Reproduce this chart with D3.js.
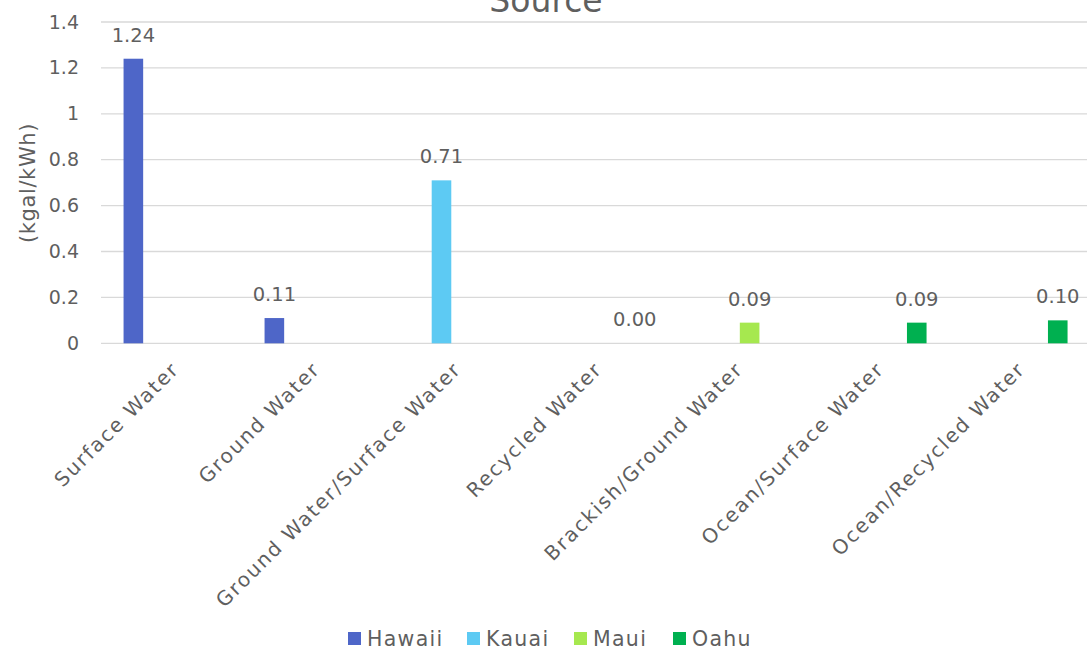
<!DOCTYPE html>
<html>
<head>
<meta charset="utf-8">
<script src="https://cdn.jsdelivr.net/npm/d3@7"></script>
<style>
  html, body { margin: 0; padding: 0; background: #fff; }
  svg { display: block; }
  text { font-family: "DejaVu Sans", sans-serif; fill: #5f5f5f; }
</style>
</head>
<body>
<svg id="chart" width="1087" height="652"></svg>
<script>
const categories = ["Surface Water", "Ground Water", "Ground Water/Surface Water", "Recycled Water", "Brackish/Ground Water", "Ocean/Surface Water", "Ocean/Recycled Water"];
const seriesNames = ["Hawaii", "Kauai", "Maui", "Oahu"];
const hawaii = [1.24, 0.11, null, null, null, null, null];
const kauai  = [null, null, 0.71, null, null, null, null];
const maui   = [null, null, null, null, 0.09, null, null];
const oahu   = [null, null, null, 0.00, null, 0.09, 0.10];
const yTicks = [0, 0.2, 0.4, 0.6, 0.8, 1, 1.2, 1.4];
const colors = ["#4E66C8", "#5DCAF3", "#A6E84F", "#00B050"];

const seriesValues = [hawaii, kauai, maui, oahu];

const svg = d3.select("#chart");
const plotLeft = 101, plotRight = 1088, plotTop = 22, plotBottom = 343.3;

const x0 = d3.scaleBand().domain(categories).range([plotLeft, plotRight]).paddingInner(0).paddingOuter(0);
const cw = x0.bandwidth();
const x1 = d3.scaleBand().domain(seriesNames).range([cw * 0.16, cw * 0.855]).paddingInner(0.25).paddingOuter(0);
const y = d3.scaleLinear().domain([0, 1.4]).range([plotBottom, plotTop]);

const FONT = '"DejaVu Sans", sans-serif';
const TXT = "#5f5f5f";

// gridlines
svg.append("g").selectAll("line").data(yTicks).join("line")
  .attr("x1", plotLeft).attr("x2", plotRight)
  .attr("y1", d => y(d)).attr("y2", d => y(d))
  .attr("stroke", "#D9D9D9").attr("stroke-width", 1.3);

// y axis labels
const yAxis = d3.axisLeft(y).tickValues(yTicks).tickSize(0).tickPadding(0).tickFormat(d => d3.format("")(d));
const gy = svg.append("g").attr("transform", `translate(79,0)`).call(yAxis);
gy.select(".domain").remove();
gy.selectAll("text").style("font-size", "19px").attr("fill", TXT).style("font-family", FONT);

// bars
const data = [];
seriesValues.forEach((arr, si) => arr.forEach((v, ci) => {
  if (v !== null) data.push({ cat: categories[ci], ser: seriesNames[si], v, si });
}));

svg.append("g").selectAll("rect").data(data).join("rect")
  .attr("x", d => x0(d.cat) + x1(d.ser))
  .attr("width", x1.bandwidth())
  .attr("y", d => y(d.v))
  .attr("height", d => y(0) - y(d.v))
  .attr("fill", d => colors[d.si]);

// data labels
svg.append("g").selectAll("text").data(data).join("text")
  .attr("x", d => x0(d.cat) + x1(d.ser) + x1.bandwidth() / 2)
  .attr("y", d => y(d.v) - 17)
  .attr("text-anchor", "middle")
  .style("font-size", "19.5px")
  .text(d => d3.format(".2f")(d.v));

// category labels
const xAxis = d3.axisBottom(x0).tickSize(0).tickPadding(0);
const gx = svg.append("g").attr("transform", `translate(0,${plotBottom})`).call(xAxis);
gx.select(".domain").remove();
gx.selectAll("text")
  .style("font-size", "20px").style("font-family", FONT)
  .style("letter-spacing", "1.9px")
  .attr("fill", TXT)
  .attr("text-anchor", "end")
  .attr("dy", null).attr("y", 0)
  .attr("transform", "translate(9,27) rotate(-45)");

// title
svg.append("text").attr("x", 546).attr("y", 12).attr("text-anchor", "middle")
  .style("font-size", "33px").text("Source");

// y axis title
svg.append("text").attr("transform", "translate(35,183) rotate(-90)")
  .attr("text-anchor", "middle").style("font-size", "21px").style("letter-spacing", "0.6px").text("(kgal/kWh)");

// legend
const legendX = [348, 467, 574, 673];
const lg = svg.append("g").selectAll("g").data(seriesNames).join("g")
  .attr("transform", (d, i) => `translate(${legendX[i]},632)`);
lg.append("rect").attr("width", 13).attr("height", 13).attr("fill", (d, i) => colors[i]);
lg.append("text").attr("x", 19).attr("y", 14).style("font-size", "20.5px").style("letter-spacing", "1.3px").text(d => d);
</script>
</body>
</html>
